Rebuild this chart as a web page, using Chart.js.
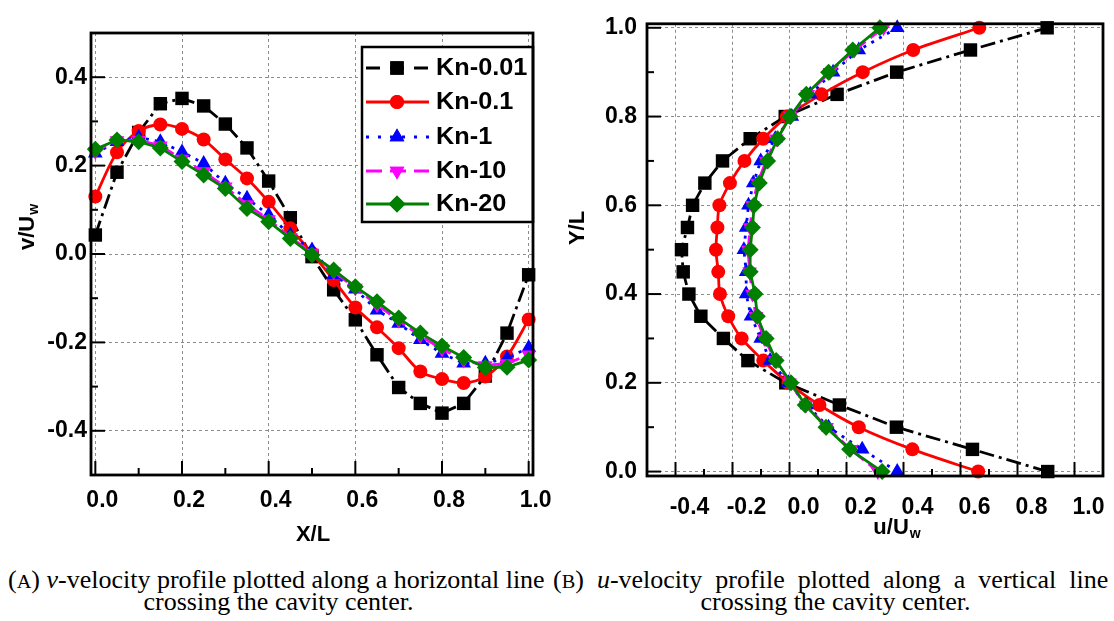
<!DOCTYPE html>
<html>
<head>
<meta charset="utf-8">
<script src="https://cdn.jsdelivr.net/npm/chart.js@4.4.1/dist/chart.umd.min.js"></script>
<style>
  body { margin: 0; background: #fff; width: 1114px; height: 621px; position: relative; overflow: hidden; }
  canvas { position: absolute; top: 0; }
  #left { left: 0; }
  #right { left: 557px; }
  .cap { position: absolute; font-family: "Liberation Serif", "Times New Roman", serif; font-size: 25px; color: #000; white-space: nowrap; line-height: 23px; }
  .first { transform: scaleX(1.04); transform-origin: left top; }
  .just { text-align: justify; text-align-last: justify; }
  .mid { text-align: center; transform: scaleX(1.04); transform-origin: center top; }
  .sc { font-size: 0.78em; }
</style>
</head>
<body>
<canvas id="left" width="557" height="555"></canvas>
<canvas id="right" width="557" height="555"></canvas>

<div class="cap first" style="left:8px; top:568px;">(<span class="sc">A</span>) <i>v</i>-velocity profile plotted along a horizontal line</div>
<div class="cap mid" style="left:0; top:590px; width:557px;">crossing the cavity center.</div>
<div class="cap first just" style="left:553px; top:568px; width:534px;">(<span class="sc">B</span>) <i>u</i>-velocity profile plotted along a vertical line</div>
<div class="cap mid" style="left:557px; top:590px; width:557px;">crossing the cavity center.</div>

<script>
// ---- data ----
const seriesNames = ['Kn-0.01', 'Kn-0.1', 'Kn-1', 'Kn-10', 'Kn-20'];

// (A) v-velocity along the horizontal centre line
const xPos = [0.0, 0.05, 0.1, 0.15, 0.2, 0.25, 0.3, 0.35, 0.4, 0.45, 0.5,
              0.55, 0.6, 0.65, 0.7, 0.75, 0.8, 0.85, 0.9, 0.95, 1.0];
const vKn001 = [0.043, 0.185, 0.275, 0.340, 0.352, 0.335, 0.294, 0.240, 0.165, 0.082, -0.006,
                -0.081, -0.149, -0.228, -0.302, -0.338, -0.360, -0.338, -0.276, -0.179, -0.047];
const vKn01 = [0.130, 0.230, 0.278, 0.293, 0.283, 0.259, 0.214, 0.171, 0.118, 0.058, 0.002,
               -0.059, -0.121, -0.166, -0.213, -0.266, -0.283, -0.292, -0.277, -0.232, -0.148];
const vKn1 = [0.228, 0.254, 0.264, 0.254, 0.231, 0.205, 0.160, 0.126, 0.088, 0.043, 0.009,
              -0.047, -0.080, -0.127, -0.157, -0.194, -0.225, -0.247, -0.247, -0.236, -0.212];
const vKn10 = [0.232, 0.257, 0.258, 0.245, 0.215, 0.186, 0.152, 0.112, 0.078, 0.038, 0.002,
               -0.040, -0.077, -0.115, -0.150, -0.185, -0.215, -0.240, -0.252, -0.248, -0.228];
const vKn20 = [0.237, 0.258, 0.254, 0.240, 0.209, 0.179, 0.148, 0.103, 0.073, 0.035, -0.002,
               -0.036, -0.074, -0.108, -0.145, -0.179, -0.208, -0.234, -0.257, -0.256, -0.240];

// (B) u-velocity along the vertical centre line
const yPos = [0.0, 0.05, 0.1, 0.15, 0.2, 0.25, 0.3, 0.35, 0.4, 0.45, 0.5,
              0.55, 0.6, 0.65, 0.7, 0.75, 0.8, 0.85, 0.9, 0.95, 1.0];
const uKn001 = [0.906, 0.642, 0.375, 0.175, -0.013, -0.146, -0.232, -0.311, -0.353, -0.373, -0.379,
                -0.358, -0.340, -0.297, -0.235, -0.138, -0.015, 0.167, 0.376, 0.635, 0.904];
const uKn01 = [0.662, 0.431, 0.243, 0.105, -0.004, -0.092, -0.168, -0.215, -0.244, -0.250, -0.258,
               -0.253, -0.246, -0.209, -0.158, -0.092, -0.009, 0.112, 0.257, 0.434, 0.666];
const uKn1 = [0.378, 0.255, 0.137, 0.061, -0.004, -0.068, -0.101, -0.135, -0.152, -0.152, -0.160,
              -0.152, -0.144, -0.127, -0.101, -0.050, 0.008, 0.073, 0.153, 0.243, 0.378];
const uKn10 = [0.310, 0.215, 0.130, 0.058, 0.000, -0.050, -0.088, -0.118, -0.130, -0.140, -0.145,
               -0.138, -0.130, -0.112, -0.082, -0.046, 0.004, 0.064, 0.142, 0.228, 0.330];
const uKn20 = [0.325, 0.211, 0.128, 0.055, 0.005, -0.047, -0.082, -0.113, -0.121, -0.138, -0.138,
               -0.130, -0.124, -0.106, -0.077, -0.042, 0.002, 0.059, 0.137, 0.222, 0.317];

// axis ticks
const leftXTicks = [0.0, 0.2, 0.4, 0.6, 0.8, 1.0];
const leftXMinor = [0.1, 0.3, 0.5, 0.7, 0.9];
const leftYTicks = [-0.4, -0.2, 0.0, 0.2, 0.4];
const leftYMinor = [-0.3, -0.1, 0.1, 0.3];
const rightXTicks = [-0.4, -0.2, 0.0, 0.2, 0.4, 0.6, 0.8, 1.0];
const rightXMinor = [-0.3, -0.1, 0.1, 0.3, 0.5, 0.7, 0.9];
const rightYTicks = [0.0, 0.2, 0.4, 0.6, 0.8, 1.0];
const rightYMinor = [0.1, 0.3, 0.5, 0.7, 0.9];

// ---- styles ----
const FONT = '"Liberation Sans", Arial, sans-serif';
const styles = [
  { color: '#000000', dash: [15, 5, 3, 5], shape: 'rect', radius: 9.5, rot: 0, tension: 0, legendDash: [14, 10] },
  { color: '#ff0000', dash: [], shape: 'circle', radius: 7, rot: 0, tension: 0.3, legendDash: [] },
  { color: '#0000ff', dash: [3, 6], shape: 'triangle', radius: 8.5, rot: 0, tension: 0, legendDash: [3, 9] },
  { color: '#ff00ff', dash: [12, 6], shape: 'triangle', radius: 8.5, rot: 180, tension: 0, legendDash: [16, 8] },
  { color: '#008000', dash: [], shape: 'rectRot', radius: 8.5, rot: 0, tension: 0, legendDash: [] }
];

function buildDatasets(pointsList) {
  return pointsList.map((pts, i) => {
    const s = styles[i];
    return {
      label: seriesNames[i],
      data: pts,
      borderColor: s.color,
      backgroundColor: s.color,
      borderWidth: 2.8,
      borderDash: s.dash,
      pointStyle: s.shape,
      pointRotation: s.rot,
      pointRadius: s.radius,
      pointBorderWidth: 0,
      pointBackgroundColor: s.color,
      tension: s.tension,
      clip: false,
      order: 4 - i  // green on top, black at the bottom
    };
  });
}

const leftSets = buildDatasets([vKn001, vKn01, vKn1, vKn10, vKn20].map(arr => xPos.map((x, i) => ({ x: x, y: arr[i] }))));
const rightSets = buildDatasets([uKn001, uKn01, uKn1, uKn10, uKn20].map(arr => yPos.map((y, i) => ({ x: arr[i], y: y }))));

// text helper: optional subscript
function drawLabel(ctx, t) {
  ctx.save();
  ctx.translate(t.x, t.y);
  if (t.rot) ctx.rotate(t.rot);
  ctx.fillStyle = '#000';
  ctx.textBaseline = 'middle';
  const mainFont = 'bold ' + t.size + 'px ' + FONT;
  const subFont = 'bold ' + Math.round(t.size * 0.62) + 'px ' + FONT;
  ctx.font = mainFont;
  const w1 = ctx.measureText(t.text).width;
  let w2 = 0;
  if (t.sub) { ctx.font = subFont; w2 = ctx.measureText(t.sub).width + 1; }
  const start = -(w1 + w2) / 2;
  ctx.textAlign = 'left';
  ctx.font = mainFont;
  ctx.fillText(t.text, start, 0);
  if (t.sub) {
    ctx.font = subFont;
    ctx.fillText(t.sub, start + w1 + 1, t.size * 0.3);
  }
  ctx.restore();
}

const framePlugin = {
  id: 'frame',
  afterDraw(chart, args, opts) {
    const ctx = chart.ctx;
    const a = chart.chartArea;
    const xs = chart.scales.x, ys = chart.scales.y;
    ctx.save();
    ctx.strokeStyle = '#000';
    ctx.setLineDash([]);
    ctx.lineWidth = 2;
    const seg = (x1, y1, x2, y2) => { ctx.beginPath(); ctx.moveTo(x1, y1); ctx.lineTo(x2, y2); ctx.stroke(); };
    opts.xMajor.forEach(v => { const p = xs.getPixelForValue(v); seg(p, a.bottom, p, a.bottom - 14); });
    opts.xMinor.forEach(v => { const p = xs.getPixelForValue(v); seg(p, a.bottom, p, a.bottom - 7); });
    opts.yMajor.forEach(v => { const p = ys.getPixelForValue(v); seg(a.left, p, a.left + 14, p); });
    opts.yMinor.forEach(v => { const p = ys.getPixelForValue(v); seg(a.left, p, a.left + 7, p); });
    ctx.lineWidth = 2.8;
    ctx.strokeRect(a.left, a.top, a.right - a.left, a.bottom - a.top);
    ctx.restore();
    opts.titles.forEach(t => drawLabel(ctx, t));
  }
};

const legendPlugin = {
  id: 'boxLegend',
  afterDatasetsDraw(chart, args, opts) {
    if (!opts.show) return;
    const ctx = chart.ctx;
    const bx = opts.x, by = opts.y, bw = opts.w, bh = opts.h;
    ctx.save();
    ctx.fillStyle = '#fff';
    ctx.fillRect(bx, by, bw, bh);
    ctx.strokeStyle = '#000';
    ctx.lineWidth = 2.5;
    ctx.strokeRect(bx, by, bw, bh);
    seriesNames.forEach((name, i) => {
      const s = styles[i];
      const cy = opts.rows[i];
      ctx.strokeStyle = s.color;
      ctx.lineWidth = 3;
      ctx.setLineDash(s.legendDash);
      ctx.beginPath();
      ctx.moveTo(bx + 4, cy);
      ctx.lineTo(bx + 67, cy);
      ctx.stroke();
      ctx.setLineDash([]);
      ctx.fillStyle = s.color;
      Chart.helpers.drawPoint(ctx, {
        pointStyle: s.shape, rotation: s.rot, radius: s.radius, borderWidth: 0
      }, bx + 35, cy);
      ctx.fill();
      ctx.save();
      ctx.translate(bx + 74, cy);
      ctx.scale(1.1, 1);
      ctx.fillStyle = '#000';
      ctx.font = 'bold 23px ' + FONT;
      ctx.textAlign = 'left';
      ctx.textBaseline = 'middle';
      ctx.fillText(name, 0, 1);
      ctx.restore();
    });
    ctx.restore();
  }
};

function axisOpts(cfg) {
  return {
    type: 'linear',
    min: cfg.min,
    max: cfg.max,
    afterBuildTicks: s => { s.ticks = cfg.ticks.map(v => ({ value: v })); },
    afterFit: s => { if (cfg.w !== undefined) s.width = cfg.w; if (cfg.h !== undefined) s.height = cfg.h; },
    grid: { color: '#8c8c8c', lineWidth: 1, drawTicks: false },
    border: { display: false, dash: [3, 3] },
    ticks: {
      padding: cfg.pad,
      labelOffset: cfg.offset || 0,
      color: '#000',
      font: { family: FONT, size: 23, weight: 'bold' },
      maxRotation: 0,
      autoSkip: false,
      callback: v => Number(v).toFixed(1)
    }
  };
}

// (A) left chart
new Chart(document.getElementById('left'), {
  type: 'line',
  data: { datasets: leftSets },
  options: {
    responsive: false,
    animation: false,
    devicePixelRatio: 1,
    layout: { padding: { left: 0, top: 33, right: 24, bottom: 0 } },
    plugins: {
      legend: { display: false },
      tooltip: { enabled: false },
      frame: {
        xMajor: leftXTicks, xMinor: leftXMinor, yMajor: leftYTicks, yMinor: leftYMinor,
        titles: [
          { text: 'X/L', x: 313, y: 535, size: 22 },
          { text: 'v/U', sub: 'w', x: 28, y: 227, size: 22, rot: -Math.PI / 2 }
        ]
      },
      boxLegend: { show: true, x: 362, y: 47, w: 171, h: 175, rows: [68, 102, 137, 171, 204] }
    },
    scales: {
      x: axisOpts({ min: -0.01, max: 1.01, ticks: leftXTicks, h: 80, pad: 12, offset: 7 }),
      y: axisOpts({ min: -0.5, max: 0.5, ticks: leftYTicks, w: 91, pad: 4 })
    }
  },
  plugins: [framePlugin, legendPlugin]
});

// (B) right chart
new Chart(document.getElementById('right'), {
  type: 'line',
  data: { datasets: rightSets },
  options: {
    responsive: false,
    animation: false,
    devicePixelRatio: 1,
    layout: { padding: { left: 0, top: 21, right: 11, bottom: 0 } },
    plugins: {
      legend: { display: false },
      tooltip: { enabled: false },
      frame: {
        xMajor: rightXTicks, xMinor: rightXMinor, yMajor: rightYTicks, yMinor: rightYMinor,
        titles: [
          { text: 'u/U', sub: 'w', x: 340, y: 528, size: 22 },
          { text: 'Y/L', x: 21, y: 228, size: 22, rot: -Math.PI / 2 }
        ]
      },
      boxLegend: { show: false }
    },
    scales: {
      x: axisOpts({ min: -0.5, max: 1.1, ticks: rightXTicks, h: 79, pad: 18, offset: 14 }),
      y: axisOpts({ min: -0.01, max: 1.009, ticks: rightYTicks, w: 90, pad: 10 })
    }
  },
  plugins: [framePlugin, legendPlugin]
});
</script>
</body>
</html>
